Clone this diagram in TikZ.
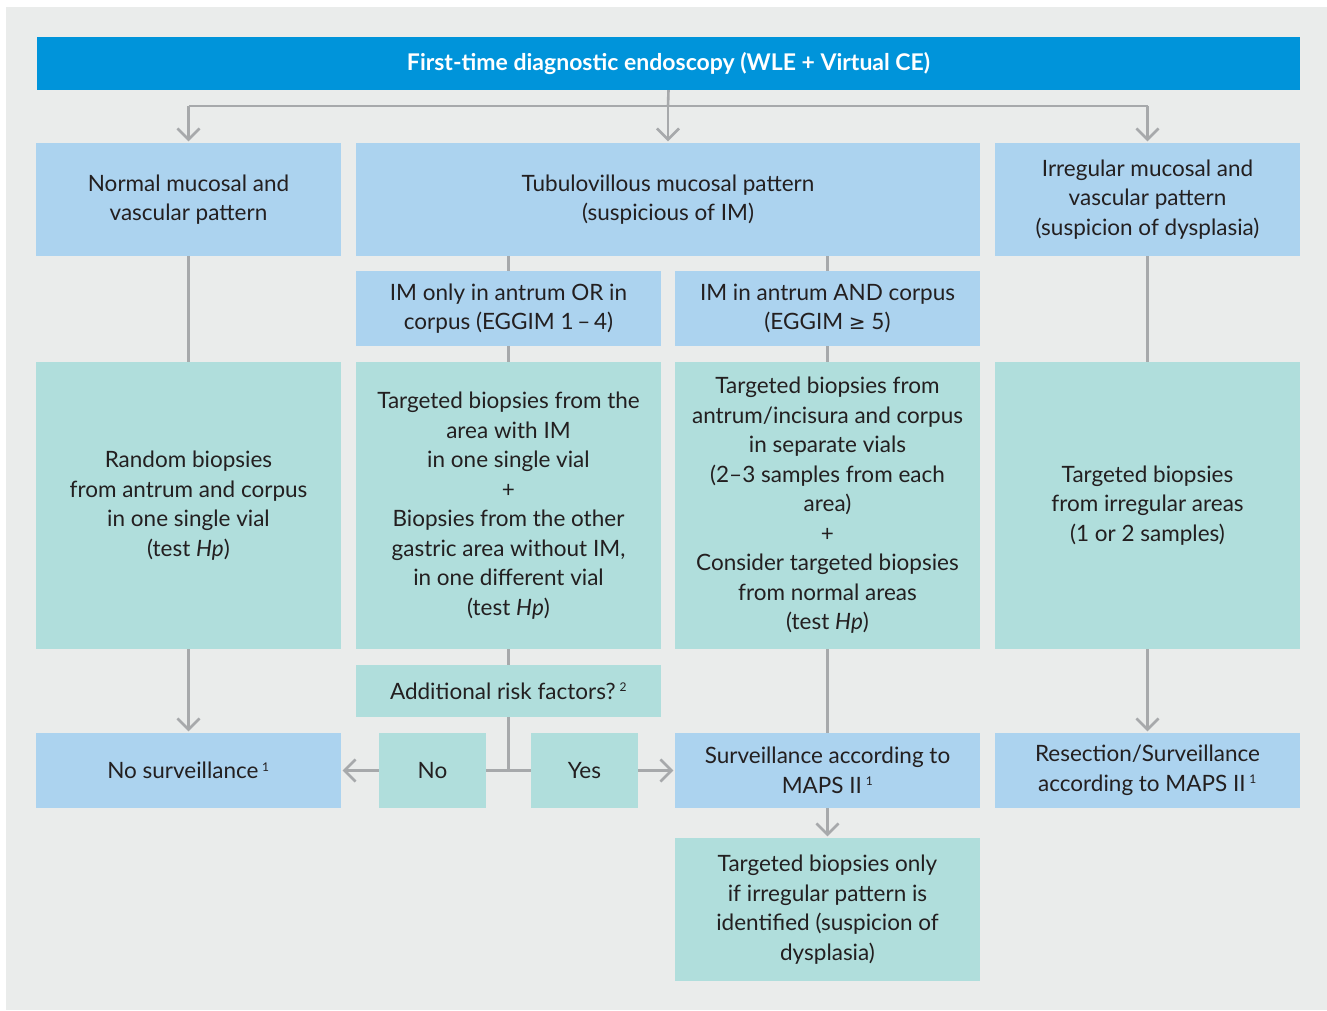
\documentclass[tikz,border=0pt]{standalone}
\usepackage{fontspec}
\setmainfont{Lato}
\newfontfamily\symf{DejaVu Sans}
\usetikzlibrary{arrows.meta}
\definecolor{bgc}{HTML}{EAECEB}
\definecolor{titlec}{HTML}{0094DA}
\definecolor{bluec}{HTML}{ACD3EF}
\definecolor{tealc}{HTML}{B0DEDC}
\definecolor{linec}{HTML}{A7A9AB}
\definecolor{txtc}{HTML}{231F20}
\newcommand{\fn}[1]{\,\textsuperscript{\fontsize{12}{12}\selectfont #1}}
\begin{document}
\begin{tikzpicture}[x=1pt,y=-1pt,
  box/.style={draw=none, inner sep=0pt, align=center, text=txtc,
    font=\fontsize{22.5}{29.5}\selectfont},
  bbox/.style={box, fill=bluec},
  tbox/.style={box, fill=tealc},
  conn/.style={draw=linec, line width=2.6pt},
  arr/.style={conn, -{Straight Barb[length=11pt, width=22pt, line width=2.6pt]}, shorten >=1.5pt}
]
\useasboundingbox (0,0) rectangle (1327,1010);
\fill[white] (0,0) rectangle (1327,1010);
\fill[bgc] (6,7) rectangle (1327,1010);

\node[box, fill=titlec, text=white, font=\fontsize{23}{27}\selectfont\bfseries,
  minimum width=1263pt, minimum height=53pt] (title) at (668.5,63.5)
  {First-time diagnostic endoscopy (WLE + Virtual CE)};

\node[bbox, minimum width=305pt, minimum height=113pt] (A) at (188.5,199.5)
  {Normal mucosal and\\vascular pattern};
\node[bbox, minimum width=624pt, minimum height=113pt] (B) at (668,199.5)
  {Tubulovillous mucosal pattern\\(suspicious of IM)};
\node[bbox, minimum width=305pt, minimum height=113pt] (C) at (1147.5,199.5)
  {Irregular mucosal and\\vascular pattern\\(suspicion of dysplasia)};

\node[bbox, minimum width=305pt, minimum height=75pt] (B1) at (508.5,308.5)
  {IM only in antrum OR in\\corpus (EGGIM 1\,–\,4)};
\node[bbox, minimum width=305pt, minimum height=75pt] (B2) at (827.5,308.5)
  {IM in antrum AND corpus\\(EGGIM {\symf\fontsize{20}{20}\selectfont ≥} 5)};

\node[tbox, minimum width=305pt, minimum height=287pt] (A3) at (188.5,505.5)
  {Random biopsies\\from antrum and corpus\\in one single vial\\(test \textit{Hp})};
\node[tbox, minimum width=305pt, minimum height=287pt] (B13) at (508.5,505.5)
  {Targeted biopsies from the\\area with IM\\in one single vial\\+\\Biopsies from the other\\gastric area without IM,\\in one different vial\\(test \textit{Hp})};
\node[tbox, minimum width=305pt, minimum height=287pt] (B23) at (827.5,505.5)
  {Targeted biopsies from\\antrum/incisura and corpus\\in separate vials\\(2–3 samples from each\\area)\\+\\Consider targeted biopsies\\from normal areas\\(test \textit{Hp})};
\node[tbox, minimum width=305pt, minimum height=287pt] (C3) at (1147.5,505.5)
  {Targeted biopsies\\from irregular areas\\(1 or 2 samples)};

\node[tbox, minimum width=305pt, minimum height=52pt] (risk) at (508.5,691)
  {Additional risk factors?\fn{2}};
\node[tbox, minimum width=107pt, minimum height=75pt] (no) at (432.5,770.5) {No};
\node[tbox, minimum width=107pt, minimum height=75pt] (yes) at (584.5,770.5) {Yes};

\node[bbox, minimum width=305pt, minimum height=75pt] (nos) at (188.5,770.5)
  {No surveillance\fn{1}};
\node[bbox, minimum width=305pt, minimum height=75pt] (maps) at (827.5,770.5)
  {Surveillance according to\\MAPS II\fn{1}};
\node[bbox, minimum width=305pt, minimum height=75pt] (res) at (1147.5,770.5)
  {Resection/Surveillance\\according to MAPS II\fn{1}};

\node[tbox, minimum width=305pt, minimum height=143pt] (fin) at (827.5,909.5)
  {Targeted biopsies only\\if irregular pattern is\\identified (suspicion of\\dysplasia)};

% connectors
\coordinate (hj) at (668,106);
\draw[conn] (title.south) -- (hj);
\draw[arr] (A.north |- hj) -- (A.north);
\draw[arr] (hj) -- (B.north);
\draw[arr] (C.north |- hj) -- (C.north);
\draw[conn] (A.north |- hj) -- (C.north |- hj);

\draw[conn] (A.south) -- (A3.north);
\draw[conn] (B1.north) -- (B1.north |- B.south);
\draw[conn] (B2.north) -- (B2.north |- B.south);
\draw[conn] (B1.south) -- (B13.north);
\draw[conn] (B2.south) -- (B23.north);
\draw[conn] (C.south) -- (C3.north);

\draw[arr] (A3.south) -- (nos.north);
\draw[conn] (B13.south) -- (risk.north);
\coordinate (jn) at (risk.south |- no.east);
\draw[conn] (risk.south) -- (jn);
\draw[conn] (no.east) -- (yes.west);
\draw[arr] (no.west) -- (nos.east);
\draw[arr] (yes.east) -- (maps.west);
\draw[conn] (B23.south) -- (maps.north);
\draw[arr] (C3.south) -- (res.north);
\draw[arr] (maps.south) -- (fin.north);
\end{tikzpicture}
\end{document}
